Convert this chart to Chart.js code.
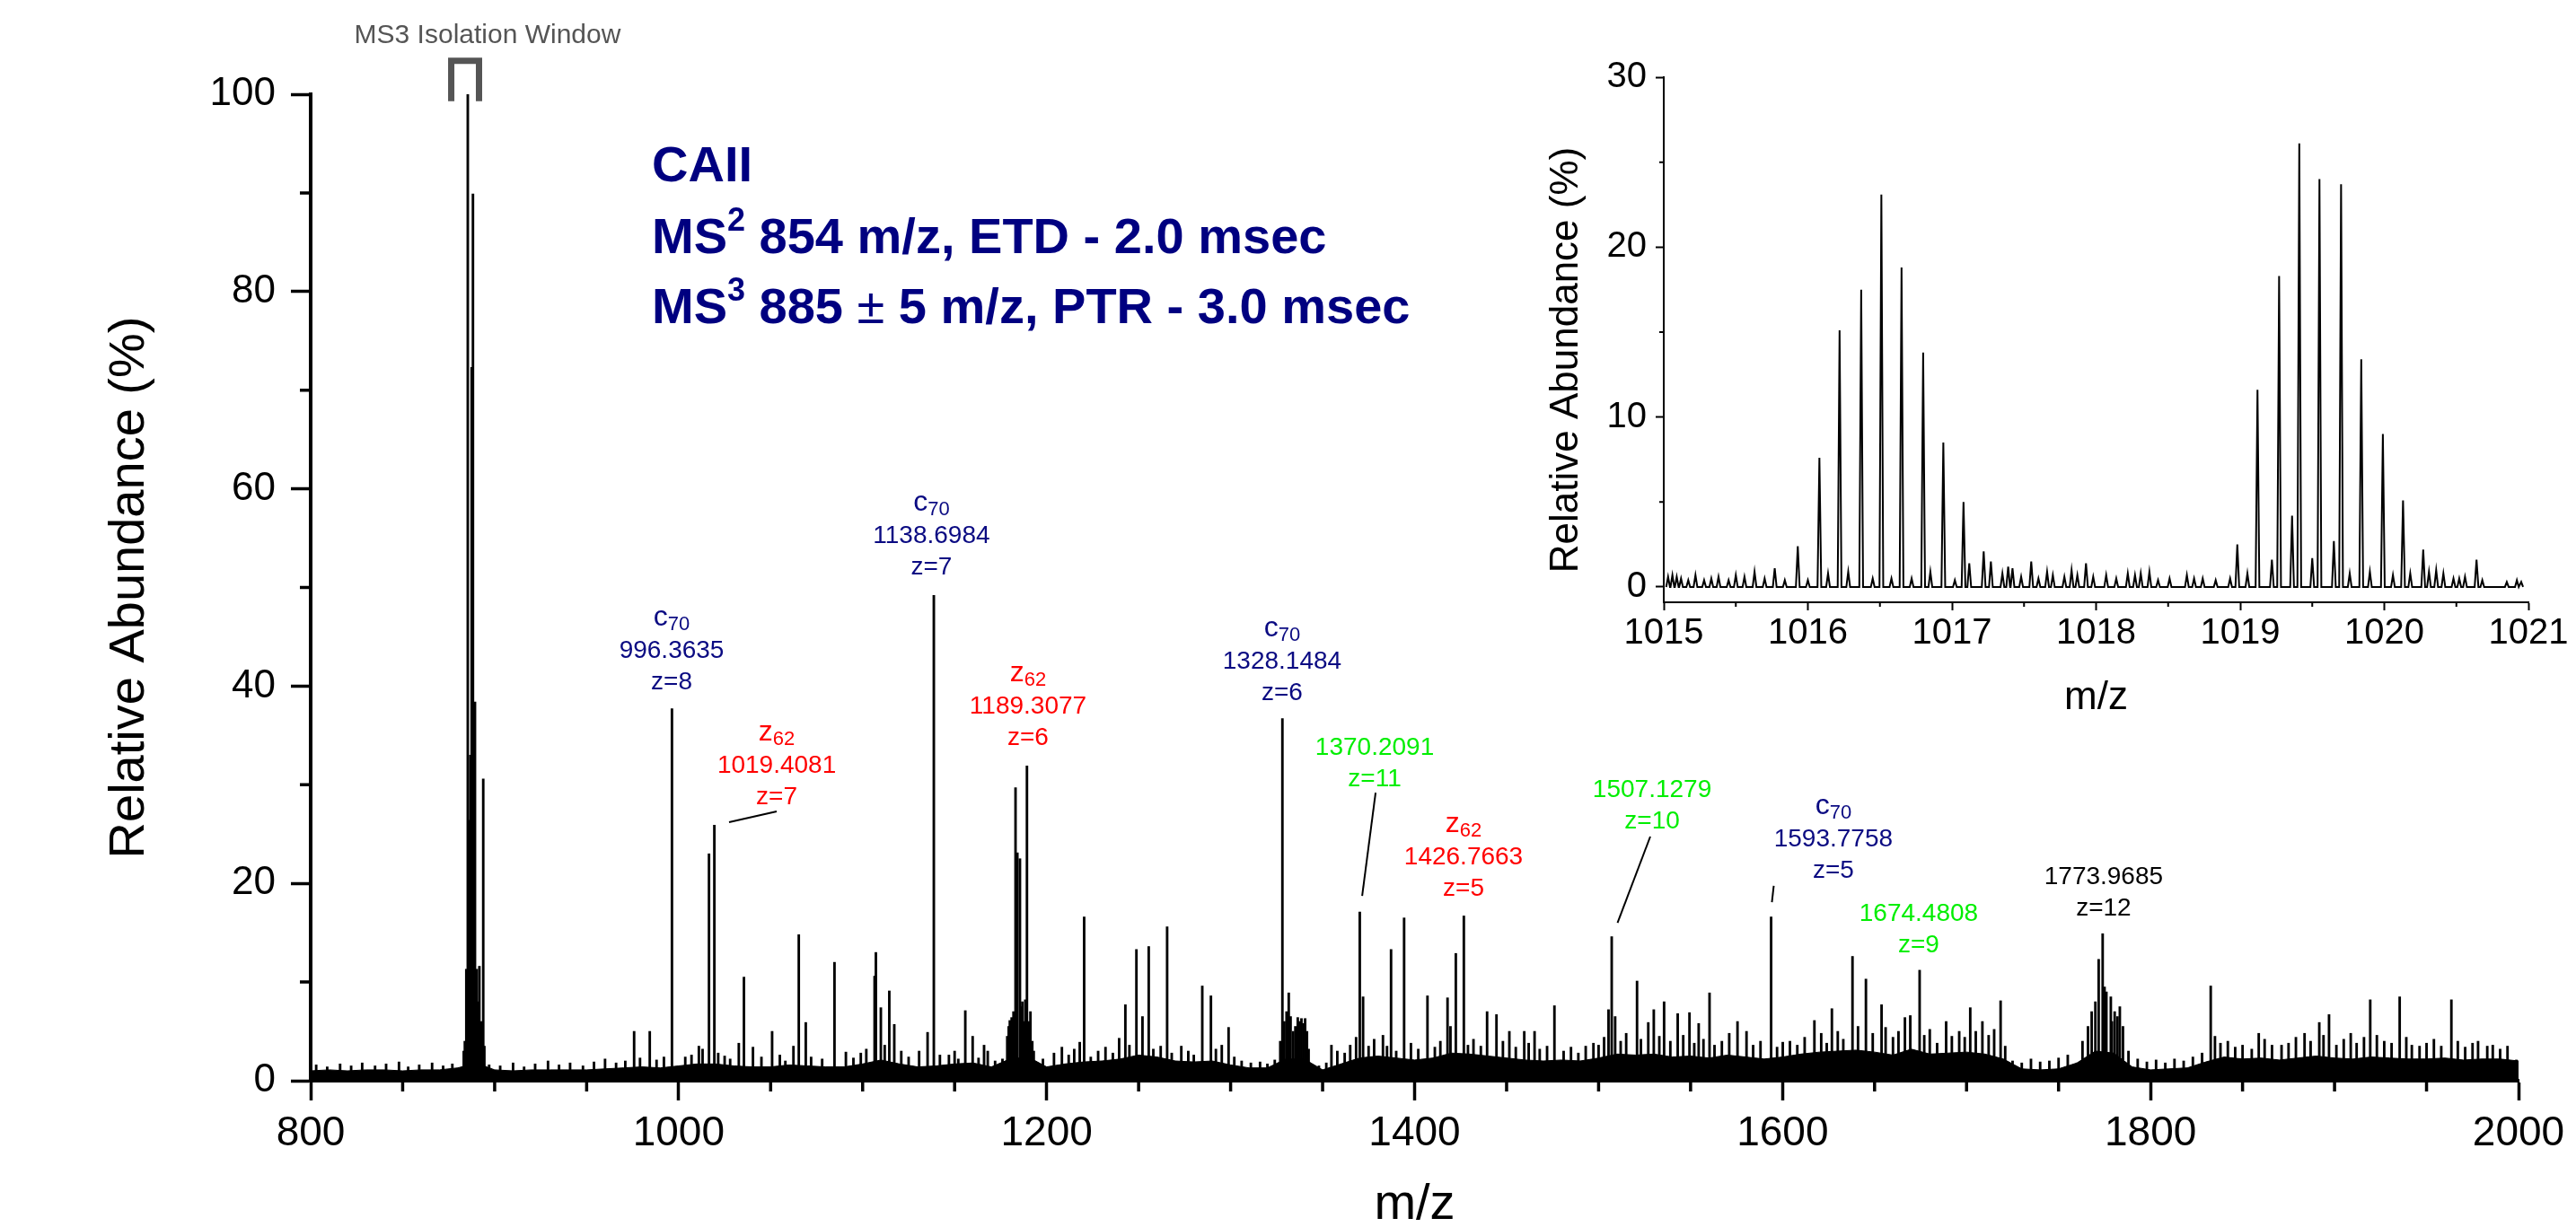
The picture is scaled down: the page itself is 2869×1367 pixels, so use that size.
<!DOCTYPE html>
<html>
<head>
<meta charset="utf-8">
<title>CAII MS3 spectrum</title>
<script src="https://cdn.jsdelivr.net/npm/chart.js@4.4.1/dist/chart.umd.min.js"></script>
<style>
  html, body { margin: 0; padding: 0; background: #fff; overflow: hidden; }
  #wrap { position: relative; width: 2869px; height: 1367px; overflow: hidden; }
  #spectrum { position: absolute; left: 0; top: 0; }
  #zoomed { position: absolute; left: 1680px; top: 0; }
</style>
</head>
<body>
<div id="wrap">
  <canvas id="spectrum" width="2869" height="1400"></canvas>
  <canvas id="zoomed" width="1189" height="840"></canvas>
</div>
<script>
var FONT = "'Liberation Sans', Arial, Helvetica, sans-serif";
var NAVY = '#0a0a82';
var RED = '#ff0000';
var GREEN = '#00ee00';

// ---- main spectrum ----
var xTicks = [800, 1000, 1200, 1400, 1600, 1800, 2000];
var xMinor = [850, 900, 950, 1050, 1100, 1150, 1250, 1300, 1350, 1450, 1500, 1550, 1650, 1700, 1750, 1850, 1900, 1950];
var yTicks = [0, 20, 40, 60, 80, 100];
var yMinor = [10, 30, 50, 70, 90];

// assigned fragment ions
var ionSeries = ['c', 'z', 'c', 'z', 'c', '', 'z', '', 'c', '', ''];
var ionIndex = ['70', '62', '70', '62', '70', '', '62', '', '70', '', ''];
var ionMz = [996.3635, 1019.4081, 1138.6984, 1189.3077, 1328.1484, 1370.2091, 1426.7663, 1507.1279, 1593.7758, 1674.4808, 1773.9685];
var ionCharge = [8, 7, 7, 6, 6, 11, 5, 10, 5, 9, 12];
var ionHeight = [37.7, 25.9, 49.2, 31.9, 36.7, 17.1, 16.7, 14.6, 16.6, 11.2, 14.9];
var ionColor = [NAVY, RED, NAVY, RED, NAVY, GREEN, RED, GREEN, NAVY, GREEN, '#000'];

// where each label sits (m/z, % of its last line) and its leader line
var labelPos = [[996.2, 40.4], [1053.3, 28.75], [1137.4, 52.05], [1189.9, 34.76], [1328.0, 39.3],
  [1378.3, 30.57], [1426.6, 19.47], [1529.1, 26.3], [1627.6, 21.3], [1674.0, 13.74], [1774.5, 17.47]];
var leaderLines = [[1027.4, 26.2, 1053.3, 27.3], [1378.8, 29.2, 1371.5, 18.74],
  [1528.1, 24.75, 1510.3, 16.0], [1595.2, 19.75, 1594.2, 18.1]];

// isolation window 885 +/- 5
var windowLo = 876.4, windowHi = 891.5, windowTop = 103.4, windowFoot = 99.3;

// other centroid peaks [m/z, %]
var otherPeaks = [
  [883.2, 3.0], [883.8, 4], [884.6, 11.3], [885.4, 100], [886.2, 26.4], [886.8, 33], [887.0, 15],
  [887.5, 72.3], [888.2, 89.9], [888.8, 20], [889.3, 38.4], [889.8, 9], [890.3, 11.3], [890.8, 8],
  [891.2, 5], [891.7, 11.6], [892.2, 4], [892.6, 6], [893.2, 4], [893.8, 30.6], [894.4, 3.5],
  [975.8, 5.0], [984.3, 5.0], [1003.6, 2.4], [1013.0, 3.2], [1016.5, 23.0], [1021.5, 2.8],
  [1032.7, 3.8], [1035.5, 10.5], [1040.4, 3.4], [1050.8, 5.0], [1062.4, 3.5], [1065.3, 14.8],
  [1069.1, 5.9], [1084.7, 12.0], [1090.9, 2.9], [1106.5, 10.6], [1107.2, 13.0], [1109.9, 7.4],
  [1114.5, 9.1], [1117.2, 5.7], [1130.7, 3.0], [1135.3, 4.9], [1146.9, 2.6], [1155.8, 7.1],
  [1159.8, 4.5], [1178.6, 4.5], [1179.4, 5.5], [1180.0, 6.1], [1181.0, 6.4], [1182.0, 7.0],
  [1183.1, 29.7], [1184.1, 23.1], [1185.5, 22.5], [1186.2, 7.5], [1186.8, 8.0], [1187.6, 6.0],
  [1188.4, 8.2], [1190.2, 6.0], [1191.2, 7.0], [1192.2, 4.0], [1193.0, 3.0],
  [1208.3, 3.4], [1218.0, 3.9], [1220.4, 16.6], [1239.4, 4.3], [1242.8, 7.7],
  [1248.8, 13.3], [1252.1, 6.5], [1255.5, 13.6], [1265.5, 15.6], [1273.2, 3.5], [1284.6, 9.6],
  [1289.3, 8.6], [1295.2, 3.6], [1298.9, 5.4], [1327.0, 4.0], [1329.2, 6.0], [1330.4, 7.0],
  [1331.6, 8.9], [1332.6, 6.5], [1334.0, 5.0], [1335.2, 5.5], [1336.5, 6.4], [1337.5, 6.0],
  [1338.5, 6.3], [1339.5, 5.8], [1340.5, 6.3], [1341.5, 5.0], [1342.4, 3.2],
  [1354.8, 3.6], [1368.2, 4.4], [1372.0, 8.5], [1382.8, 4.6],
  [1387.2, 13.3], [1394.3, 16.5], [1407.0, 8.6], [1417.9, 8.4], [1419.5, 5.5], [1422.4, 12.9],
  [1439.4, 7.0], [1444.5, 6.7], [1451.5, 5.0], [1459.6, 5.0], [1465.2, 5.0], [1476.0, 7.6],
  [1497.2, 3.8], [1505.4, 7.2], [1509.0, 6.5], [1520.9, 10.1], [1527.0, 5.9], [1530.0, 7.2],
  [1535.6, 8.0], [1543.0, 6.8], [1549.4, 6.9], [1554.4, 5.8], [1560.3, 8.9], [1575.5, 6.0],
  [1580.4, 5.0], [1600.1, 3.9], [1617.3, 6.1], [1626.8, 7.3], [1638.0, 12.6], [1645.3, 10.3],
  [1653.8, 7.7], [1666.5, 6.4], [1669.4, 6.6], [1688.9, 6.0], [1702.0, 7.4], [1708.6, 6.0],
  [1718.5, 8.1], [1760.1, 1.8], [1771.8, 12.3], [1776.0, 9.0], [1778.4, 8.5], [1780.5, 7.0],
  [1783.3, 7.5], [1832.7, 9.6], [1858.8, 4.8], [1871.2, 3.6], [1883.7, 4.8], [1891.7, 5.9],
  [1897.0, 6.7], [1908.8, 4.8], [1919.4, 8.2], [1935.4, 8.5], [1946.2, 3.5], [1963.5, 8.2],
  [1978.0, 4.0], [1983.0, 3.5], [1998.8, 2.1]
];

// small noise spikes above the baseline
var grassPeaks = [
  [803, 1.6], [809, 1.4], [816, 1.7], [822, 1.5], [828, 1.8], [835, 1.5], [841, 1.7], [848, 1.9],
  [853, 1.4], [859, 1.6], [866, 1.8], [872, 1.5], [877, 1.7], [897, 1.6], [903, 1.5], [910, 1.8],
  [916, 1.4], [922, 1.7], [929, 2.0], [935, 1.6], [941, 1.8], [948, 1.5], [954, 1.9], [960, 2.2],
  [966, 1.8], [971, 2.0], [979, 2.3], [988, 2.1], [992, 2.4], [1007, 2.6], [1011, 3.5], [1025, 2.5],
  [1028, 2.2], [1045, 2.4], [1055, 2.6], [1058, 2.0], [1072, 2.4], [1078, 2.2], [1095, 2.3],
  [1099, 2.8], [1102, 3.2], [1112, 3.6], [1121, 3.0], [1125, 2.4], [1142, 2.6], [1150, 3.0],
  [1152, 2.2], [1163, 2.3], [1166, 3.6], [1168, 3.0], [1172, 2.0], [1176, 2.2], [1198, 2.2],
  [1204, 2.8], [1212, 2.6], [1215, 3.2], [1224, 2.4], [1228, 3.0], [1232, 3.4], [1236, 2.8],
  [1245, 3.6], [1258, 3.2], [1262, 3.5], [1268, 2.8], [1277, 3.0], [1280, 2.6], [1292, 3.2],
  [1302, 2.4], [1306, 2.0], [1311, 1.8], [1316, 1.9], [1320, 1.7], [1324, 2.1], [1348, 1.5],
  [1352, 1.8], [1358, 3.0], [1362, 2.8], [1365, 3.6], [1375, 3.5], [1378, 4.2], [1385, 3.5],
  [1390, 3.0], [1398, 3.8], [1402, 3.2], [1411, 3.4], [1414, 4.0], [1429, 3.6], [1432, 4.2],
  [1436, 3.5], [1448, 4.0], [1455, 3.4], [1462, 3.8], [1468, 3.2], [1472, 3.5], [1481, 3.0],
  [1485, 3.4], [1489, 2.8], [1493, 3.5], [1500, 3.6], [1503, 4.4], [1512, 4.0], [1515, 4.8],
  [1523, 4.2], [1533, 4.5], [1539, 4.0], [1546, 4.6], [1552, 3.8], [1557, 4.2], [1563, 3.6],
  [1567, 4.0], [1571, 4.8], [1584, 3.6], [1588, 4.0], [1597, 3.4], [1604, 4.0], [1608, 3.6],
  [1612, 4.4], [1621, 4.8], [1624, 3.8], [1630, 5.0], [1633, 4.2], [1641, 5.5], [1649, 4.8],
  [1656, 5.4], [1660, 4.4], [1663, 5.0], [1677, 4.6], [1680, 5.2], [1684, 3.8], [1692, 4.5],
  [1696, 5.0], [1699, 4.4], [1705, 5.0], [1712, 4.6], [1715, 5.2], [1721, 3.5], [1725, 2.0],
  [1730, 1.8], [1735, 2.2], [1740, 1.9], [1745, 2.0], [1750, 2.3], [1755, 2.6], [1763, 4.0],
  [1766, 5.5], [1768, 7.0], [1770, 8.0], [1775, 9.5], [1779, 6.0], [1782, 6.5], [1785, 5.5],
  [1788, 3.0], [1793, 2.2], [1798, 1.9], [1803, 2.1], [1808, 1.8], [1813, 2.2], [1818, 2.0],
  [1823, 2.4], [1828, 2.8], [1835, 4.5], [1838, 3.8], [1842, 4.0], [1846, 3.4], [1850, 3.6],
  [1855, 3.2], [1862, 4.2], [1866, 3.6], [1875, 3.8], [1879, 4.4], [1887, 4.0], [1894, 4.6],
  [1901, 3.6], [1905, 4.2], [1912, 3.8], [1916, 4.4], [1923, 4.6], [1927, 4.0], [1931, 3.8],
  [1939, 4.4], [1942, 3.6], [1950, 3.8], [1954, 4.2], [1958, 3.5], [1967, 4.0], [1971, 3.4],
  [1975, 3.8], [1986, 3.6], [1990, 3.2], [1994, 3.5]
];

// solid baseline band, one level per 10 m/z from 800 to 2000
var floorStart = 800, floorStep = 10;
var floorLevel = [
  1.0, 1.1, 1.0, 1.1, 1.1, 1.0, 1.1, 1.1, 1.3, 1.8,
  1.1, 1.0, 1.1, 1.1, 1.1, 1.1, 1.2, 1.3, 1.4, 1.3,
  1.5, 1.7, 1.7, 1.5, 1.4, 1.4, 1.6, 1.5, 1.4, 1.4,
  1.7, 2.1, 1.7, 1.4, 1.5, 1.7, 1.8, 1.4, 2.2, 2.4,
  1.4, 1.7, 1.9, 2.0, 2.2, 2.6, 2.4, 2.0, 1.9, 2.0,
  1.6, 1.3, 1.3, 2.2, 2.2, 1.1, 1.7, 2.3, 2.5, 2.3,
  2.1, 2.3, 2.8, 2.7, 2.5, 2.3, 2.1, 2.0, 2.1, 2.0,
  2.3, 2.7, 2.6, 2.7, 2.4, 2.5, 2.3, 2.6, 2.4, 2.2,
  2.4, 2.7, 2.9, 3.0, 3.1, 2.9, 2.6, 3.2, 2.7, 2.8,
  2.9, 2.7, 2.2, 1.2, 1.1, 1.2, 1.8, 3.0, 2.8, 1.4,
  1.1, 1.2, 1.3, 1.9, 2.4, 2.2, 2.3, 2.1, 2.3, 2.5,
  2.3, 2.2, 2.4, 2.3, 2.2, 2.2, 2.3, 2.1, 2.2, 2.2,
  2.0
];

// ---- zoomed isotope envelopes ----
var insetXTicks = [1015, 1016, 1017, 1018, 1019, 1020, 1021];
var insetXMinor = [1015.5, 1016.5, 1017.5, 1018.5, 1019.5, 1020.5];
var insetYTicks = [0, 10, 20, 30];
var insetYMinor = [5, 15, 25];
var insetMz = [
  1015.03, 1015.06, 1015.09, 1015.12, 1015.17, 1015.22, 1015.28, 1015.33, 1015.38, 1015.45,
  1015.50, 1015.56, 1015.63, 1015.70, 1015.77, 1015.84, 1015.93, 1016.00, 1016.08, 1016.14,
  1016.22, 1016.28, 1016.37, 1016.45, 1016.51, 1016.58, 1016.65, 1016.72, 1016.80, 1016.85,
  1016.94, 1017.02, 1017.08, 1017.12, 1017.22, 1017.27, 1017.35, 1017.39, 1017.42, 1017.48,
  1017.55, 1017.60, 1017.66, 1017.70, 1017.78, 1017.83, 1017.87, 1017.93, 1017.98, 1018.07,
  1018.14, 1018.22, 1018.27, 1018.31, 1018.37, 1018.43, 1018.51, 1018.63, 1018.68, 1018.74,
  1018.83, 1018.93, 1018.98, 1019.05, 1019.12, 1019.22, 1019.27, 1019.36, 1019.41, 1019.50,
  1019.55, 1019.65, 1019.70, 1019.76, 1019.84, 1019.90, 1019.99, 1020.06, 1020.13, 1020.18,
  1020.27, 1020.31, 1020.36, 1020.41, 1020.48, 1020.52, 1020.56, 1020.64, 1020.68, 1020.85,
  1020.92, 1020.95
];
var insetAbund = [
  0.6, 0.7, 0.6, 0.5, 0.4, 0.7, 0.4, 0.5, 0.6, 0.4,
  0.7, 0.6, 0.9, 0.5, 1.1, 0.4, 2.4, 0.4, 7.6, 0.8,
  15.1, 0.9, 17.5, 0.5, 23.1, 0.5, 18.8, 0.5, 13.8, 0.9,
  8.5, 0.4, 5.0, 1.4, 2.1, 1.5, 0.8, 1.2, 1.1, 0.6,
  1.5, 0.5, 0.9, 0.7, 0.6, 1.0, 0.7, 1.4, 0.6, 0.7,
  0.5, 0.8, 0.7, 0.8, 0.9, 0.4, 0.5, 0.7, 0.5, 0.5,
  0.4, 0.5, 2.5, 0.8, 11.6, 1.6, 18.3, 4.2, 26.1, 1.7,
  24.0, 2.7, 23.7, 0.8, 13.4, 0.9, 9.0, 0.7, 5.1, 0.8,
  2.2, 0.9, 1.0, 0.8, 0.5, 0.5, 0.6, 1.6, 0.4, 0.3,
  0.4, 0.3
];
var peakHalfWidth = 0.013;

// ---- build datasets ----
var sticks = otherPeaks
  .concat(ionMz.map(function (m, i) { return [m, ionHeight[i]]; }))
  .concat(grassPeaks)
  .map(function (p) { return { x: p[0], y: p[1] }; })
  .sort(function (a, b) { return a.x - b.x; });

var floorPoints = floorLevel.map(function (v, i) { return { x: floorStart + i * floorStep, y: v }; });

// each centroid of the zoomed trace is drawn as a narrow profile peak
var insetTrace = [];
insetMz.forEach(function (m, i) {
  insetTrace.push({ x: m - peakHalfWidth, y: 0 });
  insetTrace.push({ x: m, y: insetAbund[i] });
  insetTrace.push({ x: m + peakHalfWidth, y: 0 });
});

function fixTicks(values) {
  return function (scale) { scale.ticks = values.map(function (v) { return { value: v }; }); };
}

// short unlabeled ticks between the labeled ones
var minorTicks = {
  id: 'minorTicks',
  afterDraw: function (chart, args, opts) {
    var ctx = chart.ctx, area = chart.chartArea, sx = chart.scales.x, sy = chart.scales.y;
    ctx.save();
    ctx.strokeStyle = '#000';
    ctx.lineWidth = opts.width;
    ctx.beginPath();
    opts.x.forEach(function (v) {
      var px = sx.getPixelForValue(v);
      ctx.moveTo(px, area.bottom);
      ctx.lineTo(px, area.bottom + opts.length);
    });
    opts.y.forEach(function (v) {
      var py = sy.getPixelForValue(v);
      ctx.moveTo(area.left, py);
      ctx.lineTo(area.left - opts.length, py);
    });
    ctx.stroke();
    ctx.restore();
  }
};

function drawRuns(ctx, runs, x, y, align) {
  var total = 0;
  runs.forEach(function (r) { ctx.font = r.font; r.w = ctx.measureText(r.t).width; total += r.w; });
  var cx = align === 'center' ? x - total / 2 : x;
  ctx.textAlign = 'left';
  runs.forEach(function (r) {
    ctx.font = r.font;
    ctx.fillText(r.t, cx, y + (r.dy || 0));
    cx += r.w;
  });
}

var annotations = {
  id: 'annotations',
  afterDraw: function (chart) {
    var ctx = chart.ctx, sx = chart.scales.x, sy = chart.scales.y;
    ctx.save();

    // experiment header
    var bold = 'bold 56px ' + FONT, sup = 'bold 36px ' + FONT;
    ctx.fillStyle = '#000080';
    ctx.textBaseline = 'alphabetic';
    drawRuns(ctx, [{ t: 'CAII', font: bold }], 726, 202, 'left');
    drawRuns(ctx, [{ t: 'MS', font: bold }, { t: '2', font: sup, dy: -25 },
      { t: ' 854 m/z, ETD - 2.0 msec', font: bold }], 726, 282, 'left');
    drawRuns(ctx, [{ t: 'MS', font: bold }, { t: '3', font: sup, dy: -25 },
      { t: ' 885 ', font: bold }, { t: '\u00b1', font: '56px ' + FONT },
      { t: ' 5 m/z, PTR - 3.0 msec', font: bold }], 726, 360, 'left');

    // isolation window bracket
    ctx.strokeStyle = '#555';
    ctx.lineWidth = 7;
    ctx.lineJoin = 'miter';
    ctx.beginPath();
    ctx.moveTo(sx.getPixelForValue(windowLo), sy.getPixelForValue(windowFoot));
    ctx.lineTo(sx.getPixelForValue(windowLo), sy.getPixelForValue(windowTop));
    ctx.lineTo(sx.getPixelForValue(windowHi), sy.getPixelForValue(windowTop));
    ctx.lineTo(sx.getPixelForValue(windowHi), sy.getPixelForValue(windowFoot));
    ctx.stroke();
    ctx.fillStyle = '#555';
    ctx.font = '30px ' + FONT;
    ctx.textAlign = 'center';
    ctx.textBaseline = 'middle';
    ctx.fillText('MS3 Isolation Window', 543, 40);

    // leader lines
    ctx.strokeStyle = '#000';
    ctx.lineWidth = 2;
    leaderLines.forEach(function (l) {
      ctx.beginPath();
      ctx.moveTo(sx.getPixelForValue(l[0]), sy.getPixelForValue(l[1]));
      ctx.lineTo(sx.getPixelForValue(l[2]), sy.getPixelForValue(l[3]));
      ctx.stroke();
    });

    // fragment labels
    var txt = '28px ' + FONT;
    ctx.textBaseline = 'middle';
    ionMz.forEach(function (m, i) {
      var px = sx.getPixelForValue(labelPos[i][0]);
      var py = sy.getPixelForValue(labelPos[i][1]);
      ctx.fillStyle = ionColor[i];
      drawRuns(ctx, [{ t: 'z=' + ionCharge[i], font: txt }], px, py, 'center');
      drawRuns(ctx, [{ t: m.toFixed(4), font: txt }], px, py - 35, 'center');
      if (ionSeries[i]) {
        drawRuns(ctx, [{ t: ionSeries[i], font: '32px ' + FONT, dy: -3 },
          { t: ionIndex[i], font: '22px ' + FONT, dy: 5 }], px, py - 69, 'center');
      }
    });
    ctx.restore();
  }
};

var insetTitle = {
  id: 'insetTitle',
  afterDraw: function (chart) {
    var ctx = chart.ctx;
    ctx.save();
    ctx.translate(65, 401);
    ctx.rotate(-Math.PI / 2);
    ctx.fillStyle = '#000';
    ctx.font = '44px ' + FONT;
    ctx.textAlign = 'center';
    ctx.textBaseline = 'middle';
    ctx.fillText('Relative Abundance (%)', 0, 0);
    ctx.restore();
  }
};

var plainNumber = function (v) { return String(v); };

new Chart(document.getElementById('spectrum'), {
  type: 'bar',
  data: {
    datasets: [
      {
        type: 'line', data: floorPoints, borderColor: '#000', borderWidth: 1,
        backgroundColor: '#000', fill: 'origin', pointRadius: 0, tension: 0
      },
      { data: sticks, backgroundColor: '#000', barThickness: 2.2, grouped: false }
    ]
  },
  options: {
    responsive: false,
    animation: false,
    devicePixelRatio: 1,
    layout: { padding: { top: 105, right: 64, left: 0, bottom: 0 } },
    plugins: {
      legend: { display: false },
      tooltip: { enabled: false },
      minorTicks: { x: xMinor, y: yMinor, length: 12, width: 3.5 }
    },
    scales: {
      x: {
        type: 'linear', min: 800, max: 2000, offset: false,
        afterBuildTicks: fixTicks(xTicks),
        afterFit: function (s) { s.height = 196; },
        border: { color: '#000', width: 4 },
        grid: { drawOnChartArea: false, offset: false, tickLength: 22, tickWidth: 3.5, color: '#000' },
        ticks: { font: { family: FONT, size: 46 }, color: '#000', padding: 10, maxRotation: 0, autoSkip: false, callback: plainNumber },
        title: { display: true, text: 'm/z', color: '#000', font: { family: FONT, size: 56 }, padding: { top: 0, bottom: 24 } }
      },
      y: {
        min: 0, max: 100,
        afterBuildTicks: fixTicks(yTicks),
        afterFit: function (s) { s.width = 346; },
        border: { color: '#000', width: 4 },
        grid: { drawOnChartArea: false, tickLength: 22, tickWidth: 3.5, color: '#000' },
        ticks: { font: { family: FONT, size: 44 }, color: '#000', padding: 17, autoSkip: false, callback: plainNumber },
        title: { display: true, text: 'Relative Abundance (%)', color: '#000', font: { family: FONT, size: 56 }, padding: { top: 111, bottom: 0 } }
      }
    }
  },
  plugins: [minorTicks, annotations]
});

new Chart(document.getElementById('zoomed'), {
  type: 'line',
  data: {
    datasets: [{ data: insetTrace, borderColor: '#000', borderWidth: 2, pointRadius: 0, tension: 0, fill: false }]
  },
  options: {
    responsive: false,
    animation: false,
    devicePixelRatio: 1,
    layout: { padding: { top: 86, right: 53, left: 0, bottom: 0 } },
    plugins: {
      legend: { display: false },
      tooltip: { enabled: false },
      minorTicks: { x: insetXMinor, y: insetYMinor, length: 5, width: 2 }
    },
    scales: {
      x: {
        type: 'linear', min: 1015, max: 1021,
        afterBuildTicks: fixTicks(insetXTicks),
        afterFit: function (s) { s.height = 169; },
        border: { color: '#000', width: 2 },
        grid: { drawOnChartArea: false, tickLength: 9, tickWidth: 2, color: '#000' },
        ticks: { font: { family: FONT, size: 40 }, color: '#000', padding: 2, maxRotation: 0, autoSkip: false, callback: plainNumber },
        title: { display: true, text: 'm/z', color: '#000', font: { family: FONT, size: 44 }, padding: { top: 0, bottom: 36 } }
      },
      y: {
        min: -0.9, max: 30,
        afterBuildTicks: fixTicks(insetYTicks),
        afterFit: function (s) { s.width = 173; },
        border: { color: '#000', width: 2 },
        grid: { drawOnChartArea: false, tickLength: 9, tickWidth: 2, color: '#000' },
        ticks: { font: { family: FONT, size: 40 }, color: '#000', padding: 10, autoSkip: false, callback: plainNumber }
      }
    }
  },
  plugins: [minorTicks, insetTitle]
});
</script>
</body>
</html>
